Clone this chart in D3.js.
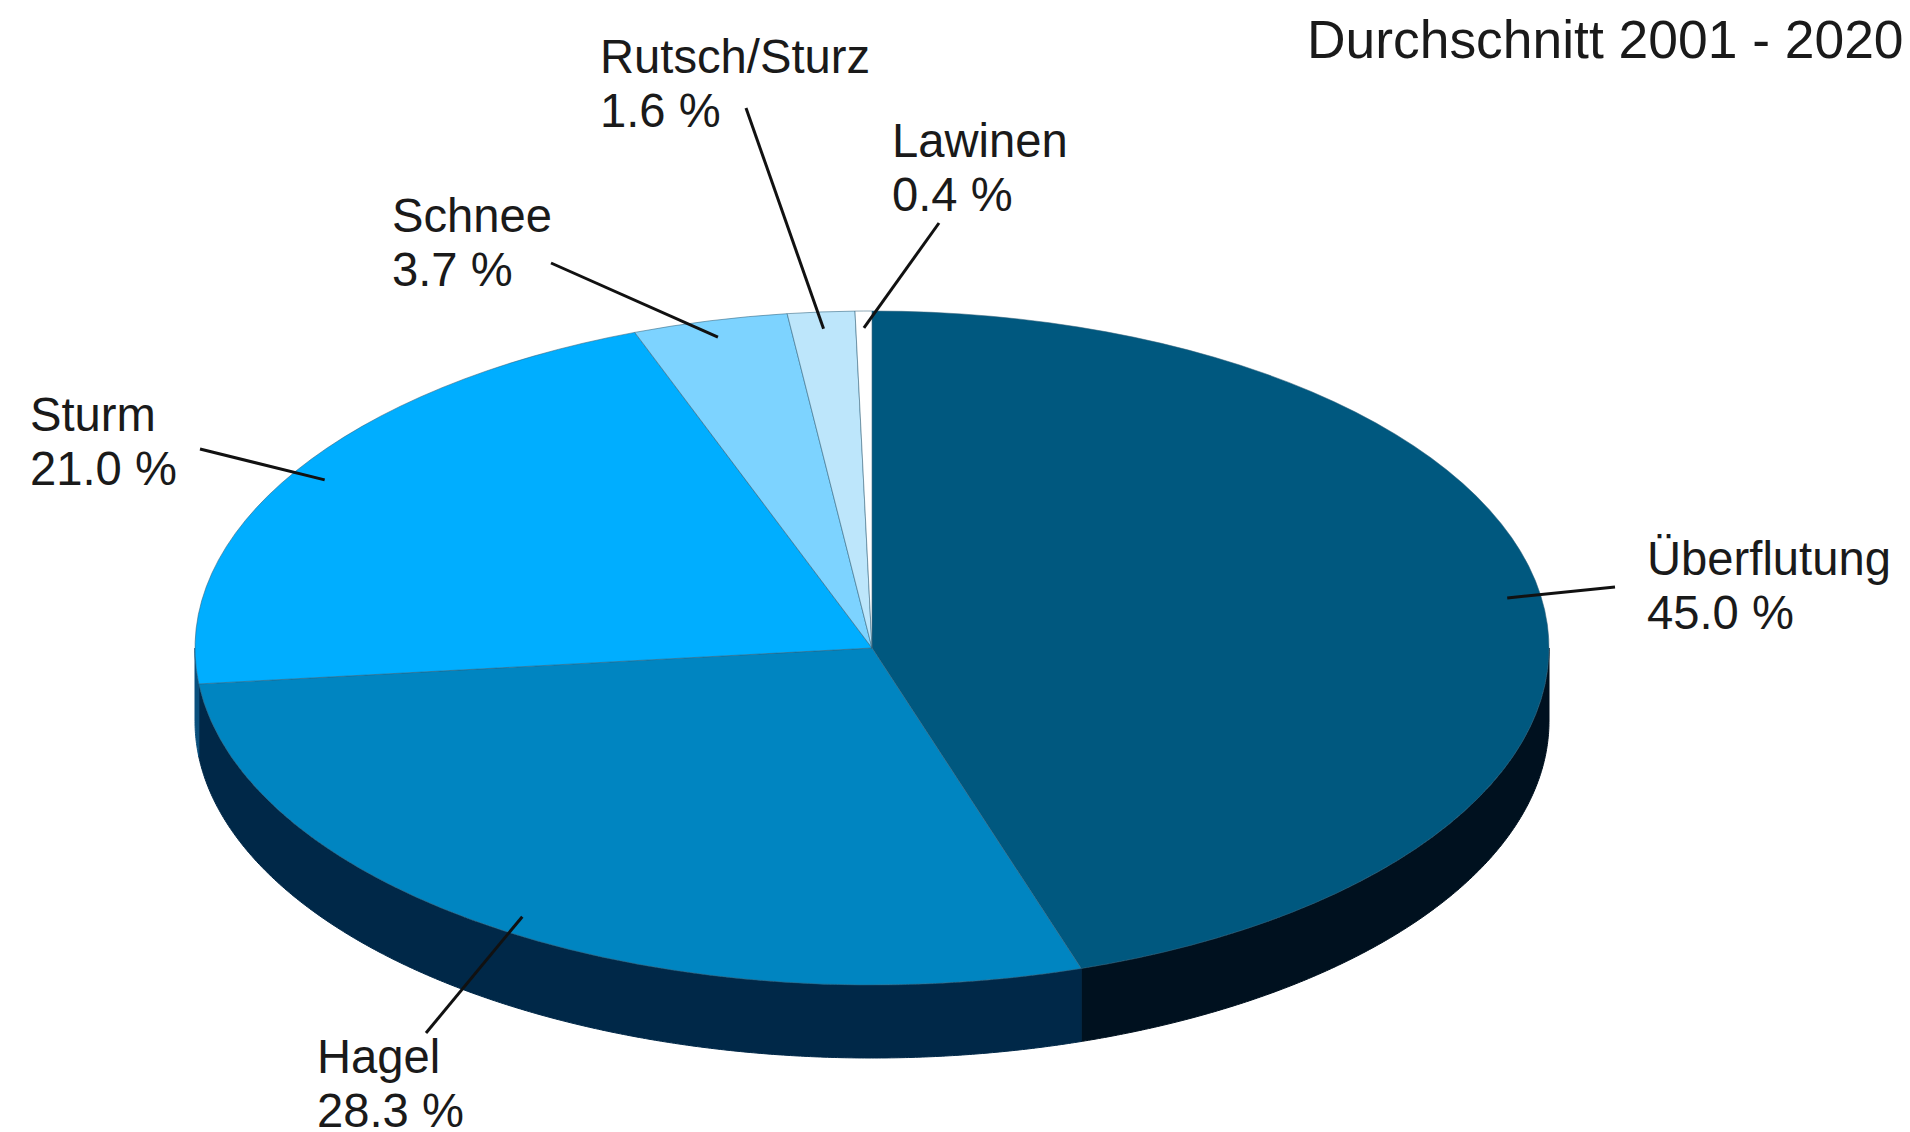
<!DOCTYPE html>
<html>
<head>
<meta charset="utf-8">
<script src="https://cdn.jsdelivr.net/npm/d3@7"></script>
<style>
  html, body { margin: 0; background: #fff; }
  svg { display: block; }
  text { font-family: "Liberation Sans", Arial, sans-serif; fill: #1a1a1a; }
</style>
</head>
<body>
<svg width="1910" height="1132"></svg>
<script>
const categories = ['Überflutung', 'Hagel', 'Sturm', 'Schnee', 'Rutsch/Sturz', 'Lawinen'];
const shares = [45.0, 28.3, 21.0, 3.7, 1.6, 0.4];
const title = 'Durchschnitt 2001 - 2020';

const topColors = ['#00587f', '#0085c1', '#00aeff', '#7dd3ff', '#bde6fb', '#ffffff'];
const wallColors = ['#00111f', '#002848', '#0a4f7c', '#3f8fb5', '#6aa6c4', '#cccccc'];

// label anchor, and where the leader line leaves the label
const labelX = [1647, 317, 30, 392, 600, 892];
const labelY = [575, 1073, 431, 232, 73, 157];
const leaderX = [1615, 426, 200, 551, 746, 939];
const leaderY = [587, 1033, 449, 263, 108, 223];

const cx = 872, cy = 648, rx = 677, ry = 337, depth = 73;
const fontSize = 47.2, titleSize = 53.4, lineGap = 53.5, leaderRadius = 0.95;

const x = d3.scaleLinear().domain([-1, 1]).range([cx - rx, cx + rx]);
const y = d3.scaleLinear().domain([-1, 1]).range([cy - ry, cy + ry]);

const svg = d3.select('svg');
const slices = d3.pie().sort(null)(shares);

// side wall, only the part of each slice which faces the viewer
const wallLine = d3.line();
function wallPath(d) {
  const a0 = Math.max(d.startAngle, Math.PI / 2);
  const a1 = Math.min(d.endAngle, Math.PI * 1.5);
  if (a1 <= a0) return null;
  const edge = d3.range(a0, a1, 0.005).concat(a1)
      .map(a => [x(Math.sin(a)), y(-Math.cos(a))]);
  const lower = edge.map(p => [p[0], p[1] + depth]).reverse();
  return wallLine(edge.concat(lower)) + 'Z';
}

svg.append('g')
    .selectAll('path')
    .data(slices)
    .enter()
    .append('path')
    .attr('d', wallPath)
    .style('fill', (d, i) => wallColors[i])
    .style('stroke', (d, i) => wallColors[i])
    .style('stroke-width', '1px');

const arc = d3.arc().innerRadius(0).outerRadius(rx);

svg.append('g')
    .attr('transform', `translate(${cx}, ${cy}) scale(1, ${ry / rx})`)
    .selectAll('path')
    .data(slices)
    .enter()
    .append('path')
    .attr('d', arc)
    .attr('vector-effect', 'non-scaling-stroke')
    .style('fill', (d, i) => topColors[i])
    .style('stroke', '#31627c')
    .style('stroke-opacity', 0.55)
    .style('stroke-width', '1px');

// leader lines end on the mid angle of their slice
svg.append('g')
    .selectAll('line')
    .data(slices)
    .enter()
    .append('line')
    .attr('x1', (d, i) => leaderX[i])
    .attr('y1', (d, i) => leaderY[i])
    .attr('x2', d => x(leaderRadius * Math.sin((d.startAngle + d.endAngle) / 2)))
    .attr('y2', d => y(-leaderRadius * Math.cos((d.startAngle + d.endAngle) / 2)))
    .style('stroke', '#111')
    .style('stroke-width', '3px');

const labels = svg.append('g')
    .selectAll('text')
    .data(slices)
    .enter()
    .append('text')
    .attr('x', (d, i) => labelX[i])
    .attr('y', (d, i) => labelY[i])
    .style('font-size', `${fontSize}px`);

labels.append('tspan')
    .text((d, i) => categories[i]);

labels.append('tspan')
    .attr('x', (d, i) => labelX[i])
    .attr('dy', lineGap)
    .text(d => `${d.value.toFixed(1)} %`);

svg.append('text')
    .attr('x', 1307)
    .attr('y', 58)
    .style('font-size', `${titleSize}px`)
    .text(title);
</script>
</body>
</html>
